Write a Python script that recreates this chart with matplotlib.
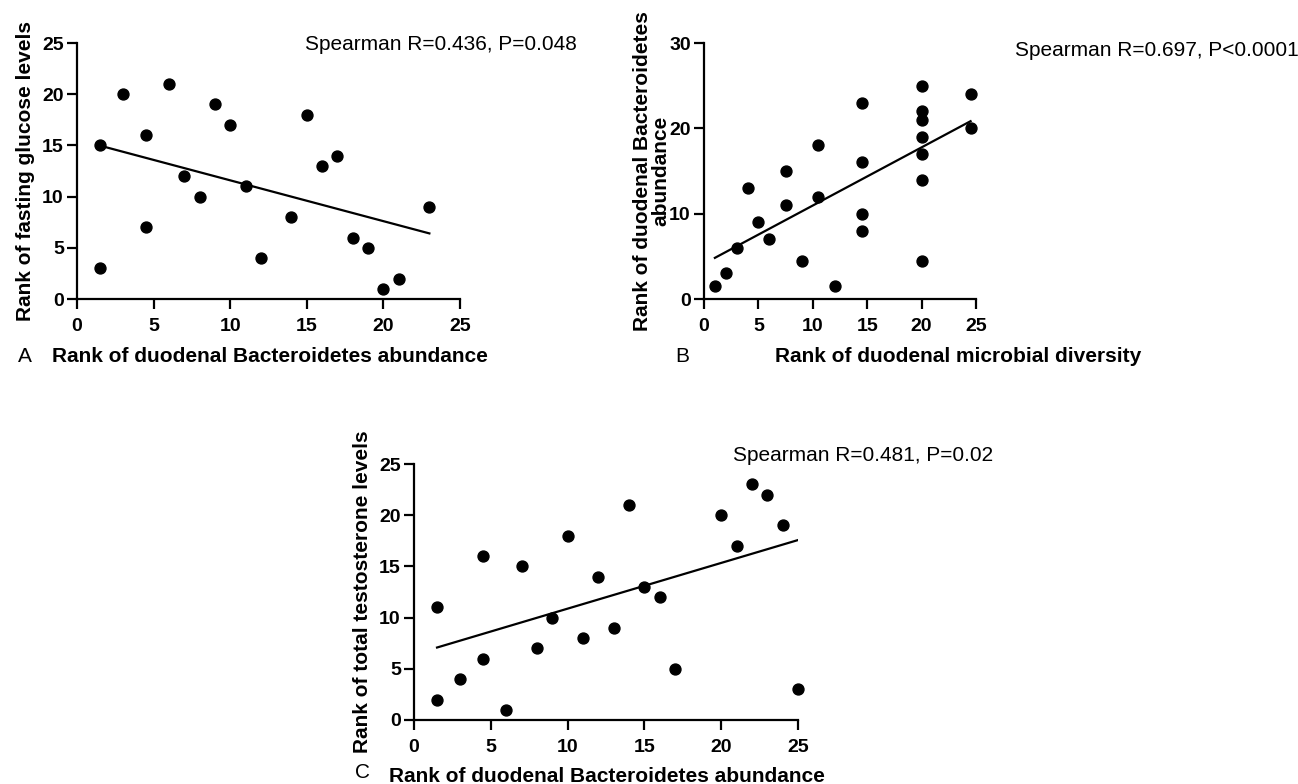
import numpy as np
import matplotlib.pyplot as plt
from matplotlib import font_manager

plt.rcParams['font.family'] = ['Liberation Sans', 'DejaVu Sans']

# A: Bacteroidetes abundance rank vs fasting glucose rank
a_x = [1.5, 1.5, 3, 4.5, 4.5, 6, 7, 8, 9, 10, 11, 12, 14, 15, 16, 17, 18, 19, 20, 21, 23]
a_y = [15, 3, 20, 16, 7, 21, 12, 10, 19, 17, 11, 4, 8, 18, 13, 14, 6, 5, 1, 2, 9]

# B: microbial diversity rank vs Bacteroidetes abundance rank
b_x = [1, 2, 3, 4, 5, 6, 7.5, 7.5, 9, 10.5, 10.5, 12, 14.5, 14.5, 14.5, 14.5,
       20, 20, 20, 20, 20, 20, 20, 24.5, 24.5]
b_y = [1.5, 3, 6, 13, 9, 7, 15, 11, 4.5, 18, 12, 1.5, 23, 16, 10, 8,
       25, 22, 21, 19, 17, 14, 4.5, 24, 20]

# C: Bacteroidetes abundance rank vs total testosterone rank
c_x = [1.5, 1.5, 3, 4.5, 4.5, 6, 7, 8, 9, 10, 11, 12, 13, 14, 15, 16, 17,
       20, 21, 22, 23, 24, 25]
c_y = [11, 2, 4, 16, 6, 1, 15, 7, 10, 18, 8, 14, 9, 21, 13, 12, 5,
       20, 17, 23, 22, 19, 3]

W, H = 1298, 784
fig = plt.figure(figsize=(W / 100, H / 100), dpi=100)

FS = 15
names = {f.name for f in font_manager.fontManager.ttflist}
narrow = 'Liberation Sans Narrow' if 'Liberation Sans Narrow' in names else 'Liberation Sans'


def box(l, t, r, b):
    return [l / W, 1 - b / H, (r - l) / W, (b - t) / H]


def panel(rect, x, y, ymax, yticks, ylabel, stats, stats_xy, lpad, tickfont='Liberation Sans'):
    ax = fig.add_axes(rect)
    ax.scatter(x, y, s=62, color='black', zorder=3, clip_on=False)
    k, c = np.polyfit(x, y, 1)
    xs = np.array([min(x), max(x)])
    ax.plot(xs, k * xs + c, color='black', lw=1.6)
    ax.set_xlim(0, 25)
    ax.set_ylim(0, ymax)
    ax.set_xticks([0, 5, 10, 15, 20, 25])
    ax.set_yticks(yticks)
    for s in ['top', 'right']:
        ax.spines[s].set_visible(False)
    for s in ['left', 'bottom']:
        ax.spines[s].set_linewidth(1.6)
    ax.tick_params(width=1.6, length=7.5, labelsize=14)
    ax.tick_params(axis='x', pad=6)
    ax.tick_params(axis='y', pad=2)
    for lab in ax.get_xticklabels() + ax.get_yticklabels():
        lab.set_fontweight('bold')
        lab.set_family(tickfont)
    ax.set_ylabel(ylabel, fontsize=FS, fontweight='bold', labelpad=lpad,
                  linespacing=0.9)
    fig.text(stats_xy[0] / W, 1 - stats_xy[1] / H, stats, fontsize=FS,
             va='center', ha='left')
    return ax


panel(box(77, 43, 460, 299), a_x, a_y, 25, [0, 5, 10, 15, 20, 25],
      'Rank of fasting glucose levels', 'Spearman R=0.436, P=0.048', (305, 44), 5)
ax_b = panel(box(704, 43, 976, 299), b_x, b_y, 30, [0, 10, 20, 30],
             'Rank of duodenal Bacteroidetes\nabundance', 'Spearman R=0.697, P<0.0001',
             (1015, 50), 8, tickfont=narrow)
ax_b.yaxis.set_label_coords(-0.125, 0.5)
panel(box(414, 464, 798, 720), c_x, c_y, 25, [0, 5, 10, 15, 20, 25],
      'Rank of total testosterone levels', 'Spearman R=0.481, P=0.02', (733, 455), 5)

# x-axis titles and panel letters
fig.text(52 / W, 1 - 357 / H, 'Rank of duodenal Bacteroidetes abundance',
         fontsize=FS, fontweight='bold', va='center')
fig.text(18 / W, 1 - 357 / H, 'A', fontsize=FS, va='center')
fig.text(775 / W, 1 - 356 / H, 'Rank of duodenal microbial diversity',
         fontsize=FS, fontweight='bold', va='center')
fig.text(675 / W, 1 - 356 / H, 'B', fontsize=FS, va='center')
fig.text(389 / W, 1 - 776 / H, 'Rank of duodenal Bacteroidetes abundance',
         fontsize=FS, fontweight='bold', va='center')
fig.text(355 / W, 1 - 772 / H, 'C', fontsize=FS, va='center')

fig.savefig('out.png', dpi=100)
